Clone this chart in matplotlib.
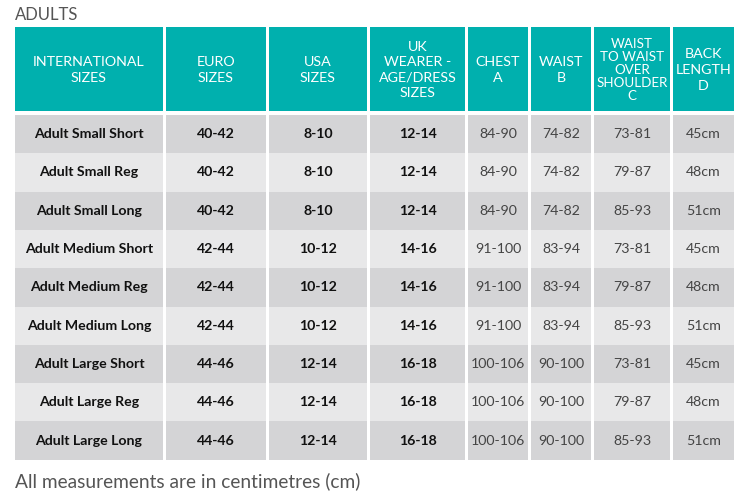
import matplotlib.pyplot as plt
from matplotlib.patches import Rectangle

plt.rcParams['font.family'] = ['Lato', 'DejaVu Sans']

headers = ['INTERNATIONAL\nSIZES', 'EURO\nSIZES', 'USA\nSIZES', 'UK\nWEARER -\nAGE/DRESS\nSIZES',
           'CHEST\nA', 'WAIST\nB', 'WAIST\nTO WAIST\nOVER\nSHOULDER\nC', 'BACK\nLENGTH\nD']
intl = ['Adult Small Short', 'Adult Small Reg', 'Adult Small Long',
        'Adult Medium Short', 'Adult Medium Reg', 'Adult Medium Long',
        'Adult Large Short', 'Adult Large Reg', 'Adult Large Long']
euro = ['40-42'] * 3 + ['42-44'] * 3 + ['44-46'] * 3
usa = ['8-10'] * 3 + ['10-12'] * 3 + ['12-14'] * 3
uk = ['12-14'] * 3 + ['14-16'] * 3 + ['16-18'] * 3
chest = ['84-90'] * 3 + ['91-100'] * 3 + ['100-106'] * 3
waist = ['74-82'] * 3 + ['83-94'] * 3 + ['90-100'] * 3
w2w = ['73-81', '79-87', '85-93'] * 3
back = ['45cm', '48cm', '51cm'] * 3

columns = [intl, euro, usa, uk, chest, waist, w2w, back]
bold_cols = 4

# column edges in pixels
col_x = [(15, 163), (166, 266), (269, 367), (370, 465), (468, 528), (531, 591), (594, 670), (673, 734)]
head_top, head_bot = 27, 111
row_top, row_h = 115, 38.3

teal = '#00b0ae'
dark = '#d4d4d6'
light = '#e8e8e9'

fig = plt.figure(figsize=(7.5, 5), dpi=100)
ax = fig.add_axes([0, 0, 1, 1])
ax.set_xlim(0, 750)
ax.set_ylim(500, 0)
ax.axis('off')

ax.text(15, 15, 'ADULTS', fontsize=12, color='#555555', va='center', ha='left')

for j, (x0, x1) in enumerate(col_x):
    ax.add_patch(Rectangle((x0, head_top), x1 - x0, head_bot - head_top, color=teal, lw=0))
    nlines = headers[j].count('\n') + 1
    ls = 1.12 if nlines >= 5 else 1.35
    fs = 9.6 if nlines >= 5 else 10.3
    ax.text((x0 + x1) / 2, (head_top + head_bot) / 2 + 1, headers[j], color='white', fontsize=fs,
            ha='center', va='center', linespacing=ls)
    for i, val in enumerate(columns[j]):
        y0 = row_top + i * row_h
        ax.add_patch(Rectangle((x0, y0), x1 - x0, row_h, color=dark if i % 2 == 0 else light, lw=0))
        if j < bold_cols:
            ax.text((x0 + x1) / 2, y0 + row_h / 2, val, fontsize=10.2, fontweight='bold',
                    color='#111111', ha='center', va='center')
        else:
            ax.text((x0 + x1) / 2, y0 + row_h / 2, val, fontsize=10.2,
                    color='#444444', ha='center', va='center')

ax.text(15, 481, 'All measurements are in centimetres (cm)', fontsize=13.8, color='#555555',
        va='center', ha='left')

fig.savefig('out.png', dpi=100)
